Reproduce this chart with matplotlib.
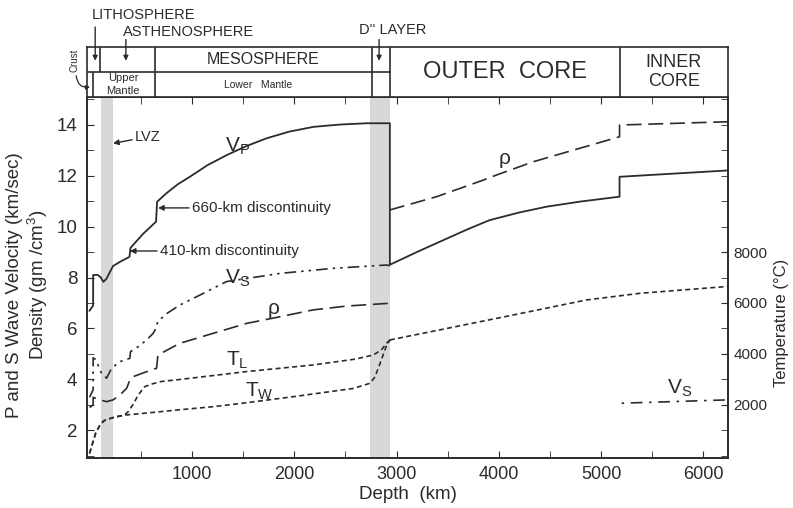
import numpy as np
import matplotlib
matplotlib.use('Agg')
import matplotlib.pyplot as plt

plt.rcParams['font.family'] = ['Liberation Sans', 'DejaVu Sans']
plt.rcParams['mathtext.fontset'] = 'custom'
plt.rcParams['mathtext.rm'] = 'Liberation Sans'

INK = '#2b2b2b'
BAND = '#d8d8d8'

# ---- data (depth in km) ----
vp_depth = [0, 35, 35, 80, 110, 135, 165, 230, 300, 390, 400, 520, 650, 660, 750, 860, 980,
            1150, 1340, 1530, 1730, 1950, 2190, 2450, 2710, 2935, 2935, 3200, 3460, 3700,
            3910, 4200, 4470, 4800, 5180, 5180, 6240]
vp = [6.7, 6.9, 8.1, 8.1, 8.0, 7.83, 7.95, 8.45, 8.62, 8.81, 9.16, 9.7, 10.19, 10.97, 11.3, 11.65, 11.95,
      12.4, 12.8, 13.15, 13.46, 13.72, 13.91, 14.0, 14.05, 14.05, 8.5, 9.0, 9.47, 9.9,
      10.25, 10.55, 10.78, 10.98, 11.17, 11.95, 12.2]

vs_depth = [0, 35, 35, 60, 117, 166, 215, 296, 394, 400, 480, 557, 620, 655, 665, 760,
            883, 1078, 1339, 1860, 2381, 2903, 2935]
vs = [3.3, 3.6, 4.85, 4.78, 4.24, 4.05, 4.44, 4.70, 4.83, 5.09, 5.3, 5.55, 5.8, 6.05, 6.27, 6.6,
      6.92, 7.31, 7.84, 8.16, 8.36, 8.49, 8.46]
vs_ic_depth = [5200, 6240]
vs_ic = [3.07, 3.2]

rho_depth = [0, 35, 35, 100, 166, 230, 296, 362, 394, 426, 540, 655, 668, 883, 1208,
             1535, 1860, 2186, 2512, 2935]
rho = [2.9, 3.0, 3.3, 3.2, 3.13, 3.2, 3.39, 3.65, 3.98, 4.11, 4.28, 4.44, 4.96, 5.42, 5.81,
       6.2, 6.46, 6.73, 6.88, 6.99]
rho_core_depth = [2935, 3392, 3848, 3978, 4336, 5180, 5180, 6240]
rho_core = [10.65, 11.17, 11.82, 12.02, 12.54, 13.52, 13.98, 14.11]

# temperatures in deg C
tw_depth = [0, 30, 60, 100, 140, 170, 250, 362, 600, 850, 1200, 1500, 2000, 2580, 2740,
            2790, 2840, 2900, 2935]
tw = [100, 500, 900, 1200, 1380, 1430, 1530, 1610, 1700, 1800, 1930, 2070, 2330, 2650, 2850,
      3100, 3640, 4300, 4550]
tl_depth = [0, 30, 60, 100, 140, 170, 250, 340, 378, 430, 475, 540, 606, 700, 883, 1535,
            2186, 2600, 2772, 2850, 2903, 2935]
tl = [100, 500, 900, 1200, 1380, 1430, 1530, 1600, 1740, 2050, 2390, 2720, 2820, 2920, 3000, 3310,
      3570, 3800, 3960, 4150, 4420, 4550]
t_core_depth = [2935, 3490, 4141, 4858, 5379, 6240]
t_core = [4550, 5000, 5530, 6120, 6380, 6650]

lvz = (110, 228)
dpp = (2740, 2935)

fig = plt.figure(figsize=(7.93, 5.08), dpi=100)
L, R, B, T = 87 / 793, 728 / 793, 1 - 458 / 508, 1 - 97 / 508
ax = fig.add_axes([L, B, R - L, T - B])
XL = (-25, 6240)
ax.set_xlim(*XL)
ax.set_ylim(0.92, 15.08)

ax.axvspan(*lvz, color=BAND, lw=0, zorder=0)
ax.axvspan(*dpp, color=BAND, lw=0, zorder=0)

ax.plot(vp_depth, vp, color=INK, lw=1.3)
dashdotdot = (0, (7, 3, 1.5, 3, 1.5, 3))
ax.plot(vs_depth, vs, color=INK, lw=1.2, linestyle=dashdotdot)
ax.plot(vs_ic_depth, vs_ic, color=INK, lw=1.2, linestyle=(0, (1.5, 4, 7, 4)))
ax.plot(rho_depth, rho, color=INK, lw=1.2, linestyle=(0, (9, 4)))
ax.plot(rho_core_depth, rho_core, color=INK, lw=1.2, linestyle=(0, (9, 4)))

ax2 = ax.twinx()
ax2.set_ylim(-80, 14080)
ax2.plot(tw_depth, tw, color=INK, lw=1.2, linestyle=(0, (3, 2)))
ax2.plot(tl_depth, tl, color=INK, lw=1.2, linestyle=(0, (3, 2)))
ax2.plot(t_core_depth, t_core, color=INK, lw=1.2, linestyle=(0, (3, 2)))

# ticks
ax.set_xticks(np.arange(1000, 6001, 1000))
ax.set_xticks(np.arange(500, 6240, 500), minor=True)
ax.set_yticks(np.arange(2, 15, 2))
ax.set_yticks(np.arange(1, 16, 1), minor=True)
ax.tick_params(which='both', direction='in', top=True, color=INK, labelcolor=INK)
ax.tick_params(axis='x', which='both', length=5, labelsize=13, pad=6)
ax.tick_params(axis='y', which='both', length=5, labelsize=13.5, pad=7)
ax2.set_yticks(np.arange(2000, 8001, 2000))
ax2.set_yticks(np.arange(0, 14001, 1000), minor=True)
ax2.tick_params(which='both', direction='in', length=5, labelsize=11, pad=4, color=INK, labelcolor=INK)
for a in (ax, ax2):
    for s in a.spines.values():
        s.set_color(INK)
        s.set_linewidth(1.2)

ax.set_xlabel('Depth  (km)', fontsize=13.5, color=INK, labelpad=2)
ax.set_ylabel('P and S Wave Velocity (km/sec)\nDensity (gm /cm$^3$)', fontsize=13.5,
              color=INK, linespacing=1.1)
ax.yaxis.set_label_coords(-0.058, 0.48)
ax2.set_ylabel('Temperature (°C)', fontsize=12, color=INK)
ax2.yaxis.set_label_coords(1.072, 0.374)

# curve labels
ax.text(1325, 13.13, r'$\mathregular{V_P}$', fontsize=15, color=INK, va='center')
ax.text(1325, 7.98, r'$\mathregular{V_S}$', fontsize=15, color=INK, va='center')
ax.text(1740, 6.8, 'ρ', fontsize=15, color=INK, va='center')
ax.text(1335, 4.74, r'$\mathregular{T_L}$', fontsize=15, color=INK, va='center')
ax.text(1520, 3.52, r'$\mathregular{T_W}$', fontsize=15, color=INK, va='center')
ax.text(3995, 12.65, 'ρ', fontsize=15, color=INK, va='center')
ax.text(5645, 3.65, r'$\mathregular{V_S}$', fontsize=15, color=INK, va='center')

arrow = dict(arrowstyle='-|>', color=INK, lw=1.0, mutation_scale=8, shrinkA=0, shrinkB=0)
ax.annotate('LVZ', xy=(230, 13.26), xytext=(443, 13.52), fontsize=10.5, color=INK,
            va='center', arrowprops=arrow)
ax.annotate('660-km discontinuity', xy=(670, 10.73), xytext=(1000, 10.73), fontsize=11,
            color=INK, va='center', arrowprops=arrow)
ax.annotate('410-km discontinuity', xy=(394, 9.04), xytext=(687, 9.04), fontsize=11,
            color=INK, va='center', arrowprops=arrow)

# header boxes
hdr = fig.add_axes([L, T, R - L, 50 / 508])
hdr.set_xlim(*XL)
hdr.set_ylim(0, 2)
hdr.set_xticks([])
hdr.set_yticks([])
for s in hdr.spines.values():
    s.set_color(INK)
    s.set_linewidth(1.2)
hdr.plot([XL[0], 2935], [1, 1], color=INK, lw=1.2)
hdr.vlines([100], 1, 2, color=INK, lw=1.2)
hdr.vlines([35], 0, 1, color=INK, lw=1.2)
hdr.vlines([640, 2760, 2935, 5180], 0, 2, color=INK, lw=1.2)

hdr.text(1700, 1.5, 'MESOSPHERE', fontsize=11.5, ha='center', va='center', color=INK)
hdr.text(1645, 0.47, 'Lower   Mantle', fontsize=7.5, ha='center', va='center', color=INK)
hdr.text(330, 0.5, 'Upper\nMantle', fontsize=8, ha='center', va='center', color=INK,
         linespacing=1.3)
hdr.text(4060, 1.0, 'OUTER  CORE', fontsize=17, ha='center', va='center', color=INK)
hdr.text(5710, 1.0, 'INNER\nCORE', fontsize=13, ha='center', va='center', color=INK,
         linespacing=1.1)

harrow = dict(arrowstyle='-|>', color=INK, lw=1.0, mutation_scale=7, shrinkA=0, shrinkB=0)
hdr.annotate('', xy=(55, 1.45), xytext=(55, 2.8), arrowprops=harrow, annotation_clip=False)
hdr.text(20, 3.28, 'LITHOSPHERE', fontsize=10.5, ha='left', va='center', color=INK, clip_on=False)
hdr.annotate('', xy=(355, 1.45), xytext=(355, 2.3), arrowprops=harrow, annotation_clip=False)
hdr.text(326, 2.58, 'ASTHENOSPHERE', fontsize=10.5, ha='left', va='center', color=INK, clip_on=False)
hdr.annotate('', xy=(2830, 1.45), xytext=(2830, 2.3), arrowprops=harrow, annotation_clip=False)
hdr.text(2630, 2.68, "D'' LAYER", fontsize=10.5, ha='left', va='center', color=INK, clip_on=False)
hdr.text(-150, 1.45, 'Crust', fontsize=7, rotation=90, ha='center', va='center', color=INK,
         clip_on=False)
hdr.annotate('', xy=(5, 0.4), xytext=(-130, 0.85),
             arrowprops=dict(arrowstyle='-|>', color=INK, lw=0.9, mutation_scale=6,
                             shrinkA=0, shrinkB=0, connectionstyle='arc3,rad=0.5'),
             annotation_clip=False)

fig.savefig('out.png', dpi=100, facecolor='white')
